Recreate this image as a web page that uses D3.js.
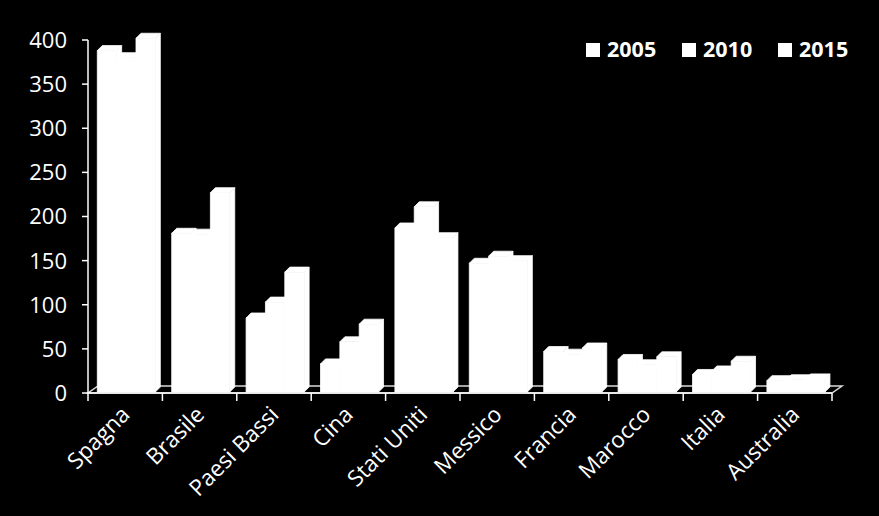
<!DOCTYPE html>
<html>
<head>
<meta charset="utf-8">
<script src="https://cdn.jsdelivr.net/npm/d3@7"></script>
<style>
html,body{margin:0;padding:0;background:#000;}
svg{display:block;}
</style>
</head>
<body>
<svg id="chart" width="879" height="516"></svg>
<script>
const categories = ["Spagna","Brasile","Paesi Bassi","Cina","Stati Uniti","Messico","Francia","Marocco","Italia","Australia"];
const seriesNames = ["2005","2010","2015"];
const values2005 = [388,181,85,33,187,147,47,38,21,14];
const values2010 = [380,180,103,58,211,155,44,32,25,15];
const values2015 = [402,227,137,78,176,150,51,41,36,16];
const yTicks = [0,50,100,150,200,250,300,350,400];

const seriesValues = [values2005, values2010, values2015];
const svg = d3.select("#chart");
const font = "'Open Sans', sans-serif";

const left = 88, right = 832, y0 = 393, yTop = 40;
const floorDx = 10, floorDy = -7;
const barDx = 5, barDy = -5;

const x0 = d3.scaleBand().domain(categories).range([left, right]).padding(0);
const bw = x0.bandwidth();
const x1 = d3.scaleBand().domain(seriesNames).range([bw*0.125, bw*0.125 + bw*0.78]).padding(0);
const y = d3.scaleLinear().domain([0,400]).range([y0, yTop]);

// floor
svg.append("polygon")
  .attr("points", [[left,y0],[right,y0],[right+floorDx,y0+floorDy],[left+floorDx,y0+floorDy]].map(p=>p.join(",")).join(" "))
  .attr("fill","#000").attr("stroke","#d9d9d9").attr("stroke-width",1.5);

// bars
const g = svg.append("g").attr("fill","#fff").attr("stroke","#fff").attr("stroke-width",0.8).attr("stroke-linejoin","round");
categories.forEach((c, ci) => {
  seriesNames.forEach((s, si) => {
    const v = seriesValues[si][ci];
    const x = x0(c) + x1(s);
    const w = x1.bandwidth();
    const yv = y(v), yb = y(0) - 1;
    g.append("polygon")
      .attr("points", [[x+w,yv],[x+w+barDx,yv+barDy],[x+w+barDx,yb+barDy],[x+w,yb]].map(p=>p.join(",")).join(" "));
    g.append("polygon")
      .attr("points", [[x,yv],[x+w,yv],[x+w+barDx,yv+barDy],[x+barDx,yv+barDy]].map(p=>p.join(",")).join(" "));
    g.append("rect").attr("x",x).attr("y",yv).attr("width",w).attr("height",yb-yv);
  });
});

// value axis
const yAxis = svg.append("g");
yAxis.append("line").attr("x1",left).attr("x2",left).attr("y1",y(400)).attr("y2",y0)
  .attr("stroke","#fff").attr("stroke-width",1.5);
yTicks.forEach(t => {
  yAxis.append("line").attr("x1",left-6).attr("x2",left).attr("y1",y(t)).attr("y2",y(t))
    .attr("stroke","#fff").attr("stroke-width",1.5);
  yAxis.append("text").attr("x",left-21).attr("y",y(t)).attr("dy","0.36em")
    .attr("text-anchor","end").attr("fill","#fff")
    .style("font-family",font).style("font-size","22px").text(t);
});

// category axis
const xAxis = svg.append("g");
xAxis.append("line").attr("x1",left).attr("x2",right).attr("y1",y0).attr("y2",y0)
  .attr("stroke","#fff").attr("stroke-width",1.5);
d3.range(categories.length+1).forEach(i => {
  const xx = left + i*bw;
  xAxis.append("line").attr("x1",xx).attr("x2",xx).attr("y1",y0).attr("y2",y0+8)
    .attr("stroke","#fff").attr("stroke-width",1.5);
});
categories.forEach(c => {
  const cx = x0(c) + bw/2 + 6;
  xAxis.append("text").attr("transform",`translate(${cx},${416}) rotate(-45)`)
    .attr("text-anchor","end").attr("fill","#fff")
    .style("font-family",font).style("font-size","22.5px").text(c);
});

// legend
const legX = [586, 682, 778];
seriesNames.forEach((s, i) => {
  svg.append("rect").attr("x",legX[i]).attr("y",43).attr("width",14).attr("height",14).attr("fill","#fff");
  svg.append("text").attr("x",legX[i]+21).attr("y",57).attr("fill","#fff")
    .style("font-family",font).style("font-size","21.5px").style("font-weight","bold").text(s);
});
</script>
</body>
</html>
